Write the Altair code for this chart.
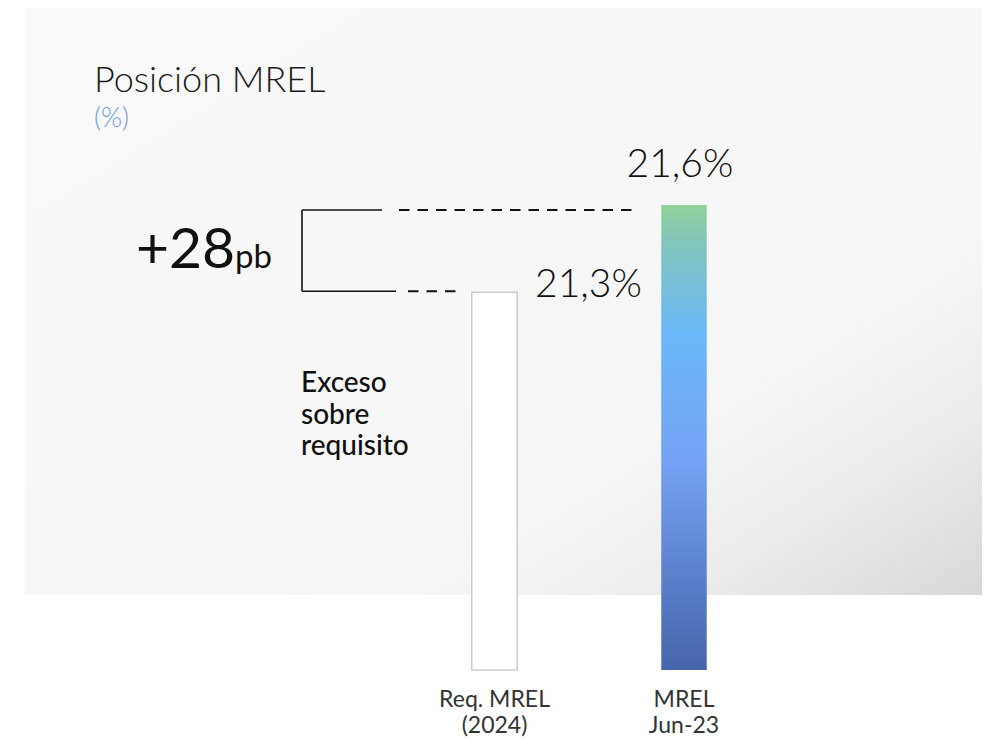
import altair as alt
import pandas as pd

# ---- data ----
categories = ["Req. MREL (2024)", "MREL Jun-23"]
category_lines = ["Req. MREL\n(2024)", "MREL\nJun-23"]
values = [21.3, 21.6]
value_labels = ["21,3%", "21,6%"]
axis_base = 20.0
delta_text = "+28"
delta_unit = "pb"
title_text = "Posición MREL"
subtitle_text = "(%)"
note_text = "Exceso\nsobre\nrequisito"

df = pd.DataFrame({
    "cat": categories,
    "value": values,
    "label": value_labels,
    "catlabel": category_lines,
    "base": [axis_base] * len(values),
})
one = pd.DataFrame({"k": [0]})

FONT = "Lato"
xscale = alt.Scale(domain=categories, range=[391.75, 770.75], paddingInner=0.76, paddingOuter=0.38)
yscale = alt.Scale(domain=[axis_base, 22.278], zero=False, nice=False)

X = alt.X("cat:N", scale=xscale, axis=None, sort=categories)
Y = alt.Y("value:Q", scale=yscale, axis=None)
Y2 = alt.Y2("base:Q")

# background panel
bg_grad = alt.LinearGradient(
    gradient="linear", x1=0, y1=0, x2=1, y2=1,
    stops=[
        alt.GradientStop(color="#f9f9f9", offset=0),
        alt.GradientStop(color="#f6f6f6", offset=0.7),
        alt.GradientStop(color="#ececec", offset=0.84),
        alt.GradientStop(color="#d8d8d8", offset=1),
    ],
)
background = alt.Chart(one).mark_rect(fill=bg_grad).encode(
    x=alt.value(17), x2=alt.value(974), y=alt.value(0), y2=alt.value(587)
)

base = alt.Chart(df)

bar_req = base.transform_filter(alt.datum.cat == categories[0]).mark_bar(
    fill="white", stroke="#cccccc", strokeWidth=1.5
).encode(x=X, y=Y, y2=Y2)

bar_grad = alt.LinearGradient(
    gradient="linear", x1=0, y1=0, x2=0, y2=1,
    stops=[
        alt.GradientStop(color="#90d29a", offset=0),
        alt.GradientStop(color="#82c5bc", offset=0.08),
        alt.GradientStop(color="#6ab8fa", offset=0.28),
        alt.GradientStop(color="#75a2f5", offset=0.55),
        alt.GradientStop(color="#5d83cf", offset=0.78),
        alt.GradientStop(color="#4765aa", offset=1),
    ],
)
bar_mrel = base.transform_filter(alt.datum.cat == categories[1]).mark_bar(
    fill=bar_grad
).encode(x=X, y=Y, y2=Y2)

lbl_req = base.transform_filter(alt.datum.cat == categories[0]).mark_text(
    font=FONT, fontSize=39, fontWeight=300, color="#111111", align="center",
    baseline="alphabetic", xOffset=94, yOffset=5
).encode(x=X, y=Y, text="label:N")

lbl_mrel = base.transform_filter(alt.datum.cat == categories[1]).mark_text(
    font=FONT, fontSize=39, fontWeight=300, color="#111111", align="center",
    baseline="alphabetic", xOffset=-4, yOffset=-28
).encode(x=X, y=Y, text="label:N")

cat_text = base.mark_text(
    font=FONT, fontSize=23, color="#333333", align="center", baseline="alphabetic",
    lineBreak="\n", lineHeight=26
).encode(x=X, y=alt.value(699), text="catlabel:N")

# bracket and dashed connectors
Ytop = alt.YDatum(values[1], type="quantitative", scale=yscale, axis=None)
Ybot = alt.YDatum(values[0], type="quantitative", scale=yscale, axis=None)
Y2bot = alt.Y2Datum(values[0])

one_c = alt.Chart(one)
br_v = one_c.mark_rule(color="#111111", strokeWidth=1.6, yOffset=5, y2Offset=-1).encode(
    x=alt.value(294), y=Ytop, y2=Y2bot
)
br_top = one_c.mark_rule(color="#111111", strokeWidth=1.6, yOffset=5).encode(
    x=alt.value(294), x2=alt.value(374), y=Ytop
)
br_bot = one_c.mark_rule(color="#111111", strokeWidth=1.6, yOffset=-1).encode(
    x=alt.value(294), x2=alt.value(388), y=Ybot
)
dash_top = one_c.mark_rule(color="#111111", strokeWidth=2, strokeDash=[10.5, 8], yOffset=5).encode(
    x=alt.value(391), x2=alt.value(628), y=Ytop
)
dash_bot = one_c.mark_rule(color="#111111", strokeWidth=2, strokeDash=[10.5, 8], yOffset=-1).encode(
    x=alt.value(400), x2=alt.value(449), y=Ybot
)

# texts
title = one_c.mark_text(
    text=title_text, font=FONT, fontSize=36, fontWeight=300, color="#1a1a1a",
    align="left", baseline="alphabetic"
).encode(x=alt.value(86), y=alt.value(84))
subtitle = one_c.mark_text(
    text=subtitle_text, font=FONT, fontSize=27, fontWeight=300, color="#6e9de6",
    align="left", baseline="alphabetic"
).encode(x=alt.value(86), y=alt.value(119))
delta = one_c.mark_text(
    text=delta_text, font=FONT, fontSize=57, fontWeight=400, color="#111111",
    align="left", baseline="alphabetic"
).encode(x=alt.value(128), y=alt.value(260))
delta_u = one_c.mark_text(
    text=delta_unit, font=FONT, fontSize=33, fontWeight=400, color="#111111",
    align="left", baseline="alphabetic"
).encode(x=alt.value(227), y=alt.value(260))
note = one_c.mark_text(
    text=note_text, font=FONT, fontSize=28, fontWeight=500, color="#111111",
    align="left", baseline="alphabetic", lineBreak="\n", lineHeight=31.5
).encode(x=alt.value(293), y=alt.value(384))

chart = alt.layer(
    background, bar_req, bar_mrel, lbl_req, lbl_mrel, cat_text,
    br_v, br_top, br_bot, dash_top, dash_bot,
    title, subtitle, delta, delta_u, note,
).properties(
    width=976, height=662,
    autosize=alt.AutoSizeParams(type="none"),
    padding={"left": 0, "top": 0, "right": 0, "bottom": 69},
    background="white",
).configure_view(stroke=None)

chart.save("out.html", embed_options={"renderer": "svg", "actions": False})
